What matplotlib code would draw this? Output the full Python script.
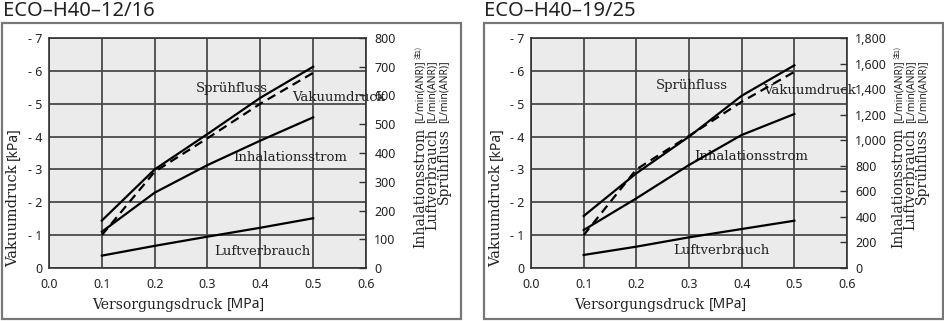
import numpy as np
import matplotlib
matplotlib.use("Agg")
from matplotlib import pyplot as plt
from matplotlib.patches import Rectangle

# supply pressure [MPa]
druck = [0.1, 0.2, 0.3, 0.4, 0.5]

# ECO-H40-12/16
titel_a = "ECO–H40–12/16"
vakuum_a = [-1.0, -2.93, -3.95, -5.0, -5.94]
spruehfluss_a = [165, 343, 466, 592, 700]
inhalation_a = [126, 262, 358, 443, 524]
luft_a = [43, 77, 109, 140, 173]

# ECO-H40-19/25
titel_b = "ECO–H40–19/25"
vakuum_b = [-1.0, -3.0, -4.02, -5.06, -5.97]
spruehfluss_b = [407, 741, 1028, 1348, 1586]
inhalation_b = [297, 545, 806, 1041, 1205]
luft_b = [102, 167, 240, 305, 370]

x_ticks = [0.0, 0.1, 0.2, 0.3, 0.4, 0.5, 0.6]
vak_ticks = [-7, -6, -5, -4, -3, -2, -1, 0]
flow_ticks_a = [0, 100, 200, 300, 400, 500, 600, 700, 800]
flow_ticks_b = [0, 200, 400, 600, 800, 1000, 1200, 1400, 1600, 1800]

namen = ["Inhalationsstrom", "Luftverbrauch", "Sprühfluss"]
einheit = "[L/min(ANR)]"

W, H = 945, 321
SERIF = "DejaVu Serif"
SANS = "Noto Sans"
INK = "#222222"


def fx(x):
    return x / W


def fy(y):
    return 1 - y / H


fig = plt.figure(figsize=(W / 100, H / 100), dpi=100)


def panel(left, right, frame_l, frame_r, titel, vakuum, sprueh, inhal, luft,
          flow_ticks, flow_fmt, label_pos, ylab_x, rlab_x):
    # outer frame
    fig.add_artist(Rectangle((fx(frame_l), fy(319)), fx(frame_r - frame_l), (319 - 22.5) / H,
                             transform=fig.transFigure, fill=False, ec="#777777", lw=1.6))
    fig.text(fx(frame_l + 1), fy(16.5), titel, family=SANS, fontsize=14.5,
             color=INK, ha="left", va="baseline")

    ax = fig.add_axes([fx(left), fy(268), fx(right - left), (268 - 38) / H])
    ax.set_facecolor("#ebebeb")
    ax.set_xlim(0, 0.6)
    ax.set_ylim(0, -7)
    ax.set_xticks(x_ticks)
    ax.set_xticklabels(["%.1f" % v for v in x_ticks], family=SANS, fontsize=9, color=INK)
    ax.set_yticks(vak_ticks)
    ax.set_yticklabels([("- %d" % -v) if v else "0" for v in vak_ticks],
                       family=SANS, fontsize=9, color=INK)
    ax.tick_params(axis="x", length=0, pad=7)
    ax.tick_params(axis="y", length=0, pad=5)
    ax.grid(True, color="#4a4a4a", lw=1.3)
    ax.set_axisbelow(True)
    for s in ax.spines.values():
        s.set_color("#333333")
        s.set_linewidth(1.2)

    ax2 = ax.twinx()
    ax2.set_ylim(0, flow_ticks[-1])
    ax2.set_yticks(flow_ticks)
    ax2.set_yticklabels([flow_fmt(v) for v in flow_ticks], family=SANS, fontsize=9, color=INK)
    ax2.tick_params(axis="y", direction="in", length=5, width=1, pad=6, color="#333333")
    for s in ax2.spines.values():
        s.set_visible(False)

    ax.plot(druck, vakuum, color="black", lw=1.6, ls=(0, (4, 2.5)), zorder=4)
    ax2.plot(druck, sprueh, color="black", lw=1.6)
    ax2.plot(druck, inhal, color="black", lw=1.6)
    ax2.plot(druck, luft, color="black", lw=1.6)

    (sx, sy), (vx, vy), (ix, iy), (lx, ly) = label_pos
    kw = dict(family=SERIF, fontsize=9.5, color=INK, va="center", zorder=1)
    ax.text(sx, sy, "Sprühfluss", ha="center", **kw)
    ax.text(vx, vy, "Vakuumdruck", ha="left", **kw)
    ax.text(ix, iy, "Inhalationsstrom", ha="center", **kw)
    ax.text(lx, ly, "Luftverbrauch", ha="center", **kw)

    # x label: serif name + sans unit
    xl = fig.text(fx(left + 43), fy(309), "Versorgungsdruck", family=SERIF, fontsize=10,
                  color=INK, ha="left", va="baseline")
    ax.annotate("[MPa]", xy=(1, 0), xycoords=xl, xytext=(3, 0), textcoords="offset points",
                family=SANS, fontsize=10, color=INK, ha="left", va="bottom")
    # y label
    yl = fig.text(fx(ylab_x), fy(267), "Vakuumdruck", family=SERIF, fontsize=10.5, color=INK,
                  rotation=90, rotation_mode="anchor", ha="left", va="center")
    ax.annotate("[kPa]", xy=(0.5, 1), xycoords=yl, xytext=(0, 3), textcoords="offset points",
                family=SANS, fontsize=10, color=INK, rotation=90, ha="center", va="bottom")

    # right label, three lines: serif names + sans units
    fig.text(fx(rlab_x), fy(128), "\n".join(namen), family=SERIF, fontsize=10, color=INK,
             rotation=90, rotation_mode="anchor", ha="right", va="center",
             multialignment="right", linespacing=0.8)
    u = fig.text(fx(rlab_x), fy(123), "\n".join([einheit] * 3), family=SANS, fontsize=7.5,
                 color=INK, rotation=90, rotation_mode="anchor", ha="left", va="center",
                 multialignment="left", linespacing=1.1)
    ax.annotate("注1)", xy=(0, 1), xycoords=u, xytext=(0, 1), textcoords="offset points",
                family=["Noto Sans CJK JP", "DejaVu Sans"], fontsize=5, color=INK,
                rotation=90, ha="left", va="bottom")
    return ax


panel(49, 366, 2, 461.5, titel_a, vakuum_a, spruehfluss_a, inhalation_a, luft_a,
      flow_ticks_a, lambda v: "%d" % v,
      [(0.346, -5.45), (0.46, -5.18), (0.456, -3.35), (0.403, -0.5)],
      13, 432)

panel(531, 847, 483.5, 943, titel_b, vakuum_b, spruehfluss_b, inhalation_b, luft_b,
      flow_ticks_b, lambda v: "{:,}".format(v),
      [(0.305, -5.54), (0.44, -5.4), (0.418, -3.38), (0.361, -0.53)],
      496, 910.5)

fig.savefig("out.png", dpi=100)
